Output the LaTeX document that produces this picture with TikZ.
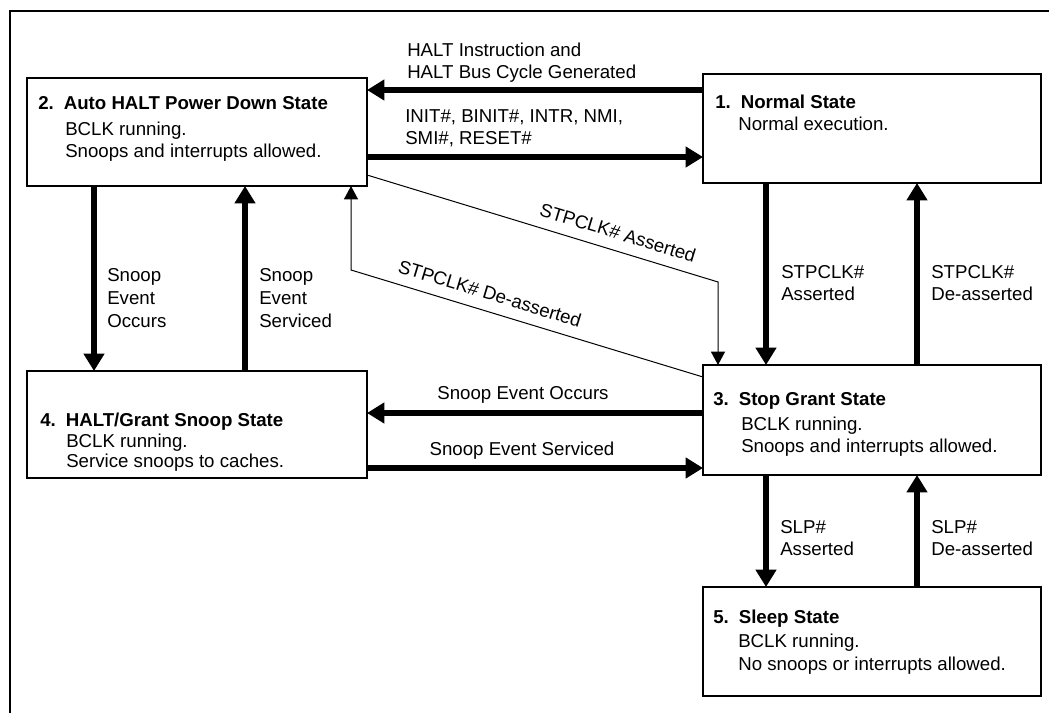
\documentclass[tikz,border=0pt]{standalone}
\usepackage{fontspec}
\setmainfont{Liberation Sans}
\usetikzlibrary{arrows.meta}
\begin{document}
\begin{tikzpicture}[x=0.75pt,y=-0.75pt,
  box/.style={draw, line width=0.9pt, inner sep=0pt, outer sep=0pt},
  txt/.style={anchor=base west, inner sep=0pt, font=\fontsize{14}{16}\selectfont},
  ttl/.style={anchor=base west, inner sep=0pt, font=\fontsize{14}{16}\selectfont\bfseries},
  ctr/.style={anchor=base, inner sep=0pt, font=\fontsize{14}{16}\selectfont},
  big/.style={line width=4.5pt, -{Triangle[length=13pt,width=15pt]}},
  thinarrow/.style={line width=0.75pt, -{Triangle[length=10pt,width=10.5pt]}},
  slab/.style={sloped, above=8pt, inner sep=0pt, font=\fontsize{14}{16}\selectfont},
]
\useasboundingbox (0,0) rectangle (1049,713);
\draw[line width=1.2pt] (1049,11) -- (10,11) -- (10,713);

% boxes
\node[box, minimum width=255pt, minimum height=81pt] (s2) at (197,132) {};
\node[box, minimum width=253.5pt, minimum height=81.75pt] (s1) at (872,128.5) {};
\node[box, minimum width=255pt, minimum height=80.25pt] (s4) at (197,424.5) {};
\node[box, minimum width=253.5pt, minimum height=82.5pt] (s3) at (872,420) {};
\node[box, minimum width=253.5pt, minimum height=81.75pt] (s5) at (872,641.5) {};

% box texts
\node[ttl] (t2a) at (38,110) {2.\hspace{7.5pt}Auto HALT Power Down State};
\node[txt] (t2b) at (65,136) {BCLK running.};
\node[txt] (t2c) at (65,158) {Snoops and interrupts allowed.};

\node[ttl] (t1a) at (715,109) {1.\hspace{7.5pt}Normal State};
\node[txt] (t1b) at (738,131) {Normal execution.};

\node[ttl] (t3a) at (713,405) {3.\hspace{7.5pt}Stop Grant State};
\node[txt] (t3b) at (741,430) {BCLK running.};
\node[txt] (t3c) at (741,452) {Snoops and interrupts allowed.};

\node[ttl] (t4a) at (40,426) {4.\hspace{7.5pt}HALT/Grant Snoop State};
\node[txt] (t4b) at (66,447) {BCLK running.};
\node[txt] (t4c) at (66,467) {Service snoops to caches.};

\node[ttl] (t5a) at (713,623) {5.\hspace{7.5pt}Sleep State};
\node[txt] (t5b) at (738,647) {BCLK running.};
\node[txt] (t5c) at (738,670) {No snoops or interrupts allowed.};

% thick arrows
\draw[big] (s1.west |- 0,90) -- (s2.east |- 0,90);
\draw[big] (s2.east |- 0,157) -- (s1.west |- 0,157);
\draw[big] (s2.south -| 94,0) -- (s4.north -| 94,0);
\draw[big] (s4.north -| 245,0) -- (s2.south -| 245,0);
\draw[big] (s1.south -| 766,0) -- (s3.north -| 766,0);
\draw[big] (s3.north -| 917,0) -- (s1.south -| 917,0);
\draw[big] (s3.west |- 0,413) -- (s4.east |- 0,413);
\draw[big] (s4.east |- 0,468) -- (s3.west |- 0,468);
\draw[big] (s3.south -| 766,0) -- (s5.north -| 766,0);
\draw[big] (s5.north -| 917,0) -- (s3.south -| 917,0);

% thin arrows
\coordinate (c1) at (718,282);
\coordinate (c2) at (351,270);
\draw[thinarrow] (s2.east |- 0,175) -- node[slab, pos=0.70] (la) {STPCLK\# Asserted} (c1) -- (s3.north -| c1);
\draw[thinarrow] (s3.west |- 0,377) -- node[slab, pos=0.62] (ld) {STPCLK\# De-asserted} (c2) -- (s2.south -| c2);

% arrow labels
\node[txt] (h1) at (407,57) {HALT Instruction and};
\node[txt] (h2) at (407,79) {HALT Bus Cycle Generated};
\node[txt] (i1) at (405,123) {INIT\#, BINIT\#, INTR, NMI,};
\node[txt] (i2) at (405,145) {SMI\#, RESET\#};

\node[txt] (o1) at (107,281) {Snoop};
\node[txt] (o2) at (107,304) {Event};
\node[txt] (o3) at (107,327) {Occurs};
\node[txt] (v1) at (259,281) {Snoop};
\node[txt] (v2) at (259,304) {Event};
\node[txt] (v3) at (259,327) {Serviced};

\node[txt] (a1) at (781,278) {STPCLK\#};
\node[txt] (a2) at (781,300) {Asserted};
\node[txt] (d1) at (931,278) {STPCLK\#};
\node[txt] (d2) at (931,300) {De-asserted};

\node[txt] (p1) at (780,533) {SLP\#};
\node[txt] (p2) at (780,555) {Asserted};
\node[txt] (q1) at (931,533) {SLP\#};
\node[txt] (q2) at (931,555) {De-asserted};

\node[ctr] (so) at (523,399) {Snoop Event Occurs};
\node[ctr] (ss) at (522,455) {Snoop Event Serviced};
\end{tikzpicture}
\end{document}
